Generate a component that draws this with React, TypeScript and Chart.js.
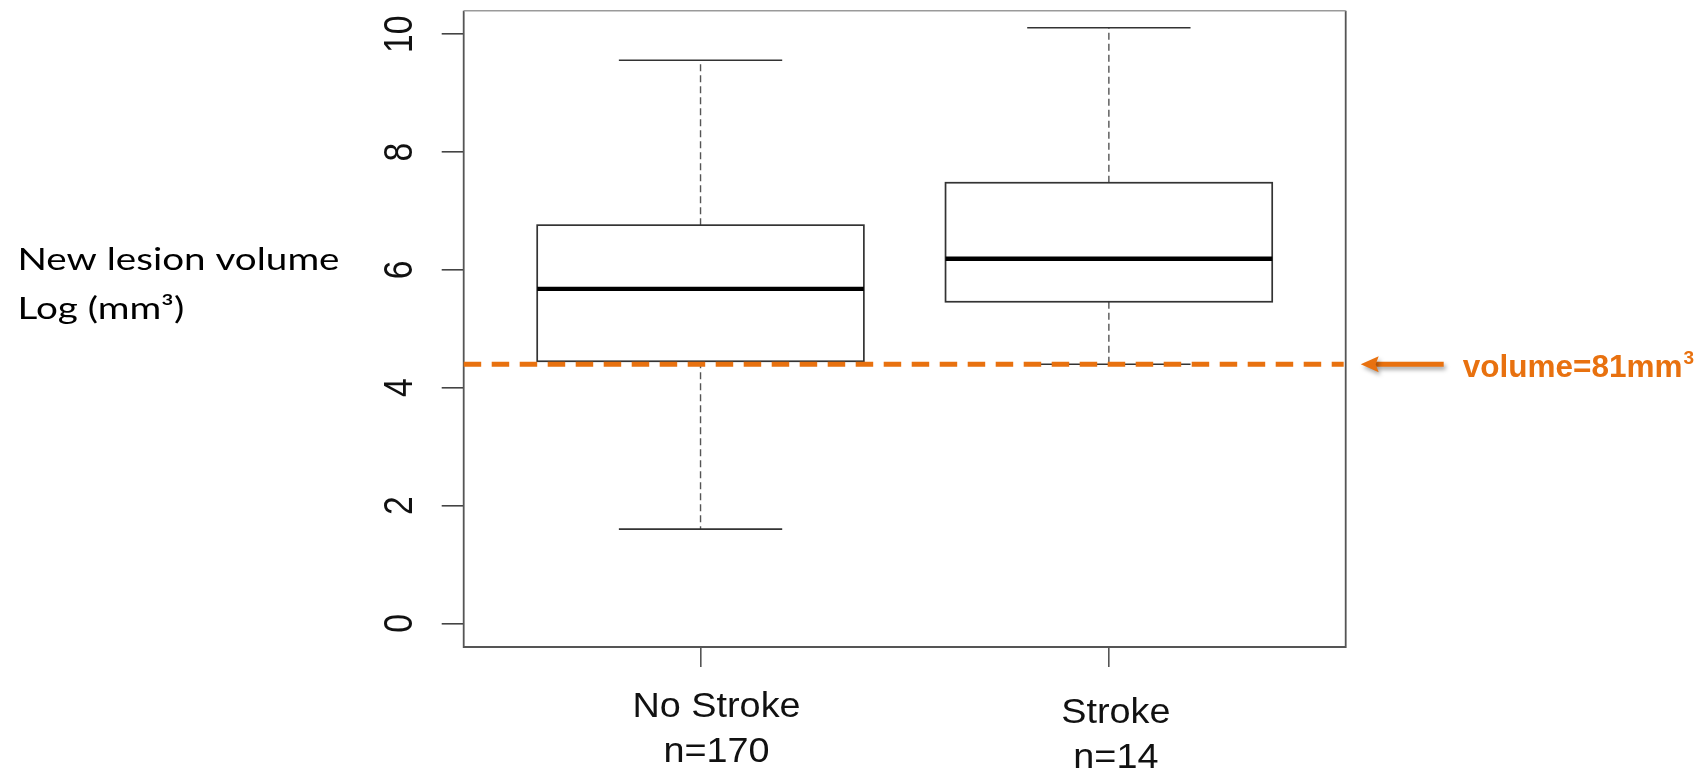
import React, { useEffect, useRef } from "react";
import { Chart, registerables } from "chart.js";

Chart.register(...registerables);

// ---- data ----
const categories = ["No Stroke", "Stroke"];
const sampleSizes = ["n=170", "n=14"];
const categoryPositions = [1, 2];
const whiskerLow = [1.6, 4.4];
const quartile1 = [4.45, 5.46];
const medians = [5.68, 6.19];
const quartile3 = [6.76, 7.48];
const whiskerHigh = [9.56, 10.11];
const yTickValues = [0, 2, 4, 6, 8, 10];
const thresholdValue = 4.4;
const thresholdLabel = "volume=81mm";
const thresholdSup = "3";
const yTitleLines = ["New lesion volume", "Log (mm³)"];

// ---- styles / layout ----
const ORANGE = "#E8710F";
const BOX_WIDTH = 0.8; // in x units (R default boxwex)
const LABEL_OFFSETS = [16, 7]; // x-label pixel offsets from tick
const LABEL_ROW1 = [70, 76]; // baseline offsets below plot bottom
const LABEL_ROW2 = [115, 121];

const boxPlugin = {
  id: "boxplotDraw",
  afterDatasetsDraw(chart: any) {
    const { ctx, chartArea, scales } = chart;
    const x = scales.x;
    const y = scales.y;
    ctx.save();
    categoryPositions.forEach((pos, i) => {
      const cx = x.getPixelForValue(pos);
      const half = x.getPixelForValue(pos + BOX_WIDTH / 2) - cx;
      const capHalf = half / 2;
      const yLo = y.getPixelForValue(whiskerLow[i]);
      const yQ1 = y.getPixelForValue(quartile1[i]);
      const yMed = y.getPixelForValue(medians[i]);
      const yQ3 = y.getPixelForValue(quartile3[i]);
      const yHi = y.getPixelForValue(whiskerHigh[i]);

      // whiskers (dashed)
      ctx.setLineDash([7, 4]);
      ctx.strokeStyle = "#555";
      ctx.lineWidth = 1.4;
      ctx.beginPath();
      ctx.moveTo(cx, yQ3);
      ctx.lineTo(cx, yHi);
      ctx.moveTo(cx, yQ1);
      ctx.lineTo(cx, yLo);
      ctx.stroke();

      // caps
      ctx.setLineDash([]);
      ctx.strokeStyle = "#333";
      ctx.lineWidth = 1.6;
      ctx.beginPath();
      ctx.moveTo(cx - capHalf, yHi);
      ctx.lineTo(cx + capHalf, yHi);
      ctx.moveTo(cx - capHalf, yLo);
      ctx.lineTo(cx + capHalf, yLo);
      ctx.stroke();

      // box
      ctx.fillStyle = "#fff";
      ctx.fillRect(cx - half, yQ3, 2 * half, yQ1 - yQ3);
      ctx.strokeStyle = "#333";
      ctx.lineWidth = 1.7;
      ctx.strokeRect(cx - half, yQ3, 2 * half, yQ1 - yQ3);

      // median
      ctx.strokeStyle = "#000";
      ctx.lineWidth = 4.3;
      ctx.beginPath();
      ctx.moveTo(cx - half, yMed);
      ctx.lineTo(cx + half, yMed);
      ctx.stroke();
    });

    // frame
    ctx.setLineDash([]);
    ctx.lineWidth = 1.8;
    ctx.strokeStyle = "#555";
    ctx.beginPath();
    ctx.moveTo(chartArea.left, chartArea.top);
    ctx.lineTo(chartArea.left, chartArea.bottom);
    ctx.lineTo(chartArea.right, chartArea.bottom);
    ctx.lineTo(chartArea.right, chartArea.top);
    ctx.stroke();
    ctx.strokeStyle = "#9a9a9a";
    ctx.lineWidth = 1.5;
    ctx.beginPath();
    ctx.moveTo(chartArea.left, chartArea.top);
    ctx.lineTo(chartArea.right, chartArea.top);
    ctx.stroke();

    // threshold dashed line
    const yT = y.getPixelForValue(thresholdValue);
    ctx.strokeStyle = ORANGE;
    ctx.lineWidth = 5;
    ctx.setLineDash([17.5, 10.5]);
    ctx.beginPath();
    ctx.moveTo(chartArea.left, yT);
    ctx.lineTo(chartArea.right - 2, yT);
    ctx.stroke();
    ctx.setLineDash([]);

    // arrow
    ctx.save();
    ctx.shadowColor = "rgba(0,0,0,0.35)";
    ctx.shadowBlur = 4;
    ctx.shadowOffsetX = 2;
    ctx.shadowOffsetY = 3;
    const ax0 = chartArea.right + 98;
    const ax1 = chartArea.right + 15;
    ctx.strokeStyle = ORANGE;
    ctx.fillStyle = ORANGE;
    ctx.lineWidth = 5;
    ctx.beginPath();
    ctx.moveTo(ax0, yT);
    ctx.lineTo(ax1 + 14, yT);
    ctx.stroke();
    ctx.beginPath();
    ctx.moveTo(ax1, yT);
    ctx.lineTo(ax1 + 18, yT - 8);
    ctx.lineTo(ax1 + 15, yT);
    ctx.lineTo(ax1 + 18, yT + 8);
    ctx.closePath();
    ctx.fill();
    ctx.restore();

    // threshold label
    ctx.fillStyle = ORANGE;
    ctx.font = "bold 31.5px 'Liberation Sans', Arial, sans-serif";
    ctx.textAlign = "left";
    ctx.textBaseline = "alphabetic";
    const tx = chartArea.right + 117;
    const ty = yT + 13;
    ctx.fillText(thresholdLabel, tx, ty);
    const w = ctx.measureText(thresholdLabel).width;
    ctx.font = "bold 19px 'Liberation Sans', Arial, sans-serif";
    ctx.fillText(thresholdSup, tx + w + 1, ty - 13);
    ctx.restore();
  },
  afterDraw(chart: any) {
    const { ctx, chartArea, scales } = chart;
    const x = scales.x;
    const y = scales.y;
    ctx.save();
    ctx.fillStyle = "#111";

    // y tick labels (rotated, R style)
    ctx.font = "41px 'Liberation Sans', Arial, sans-serif";
    ctx.textAlign = "center";
    ctx.textBaseline = "alphabetic";
    y.ticks.forEach((t: any) => {
      const py = y.getPixelForValue(t.value);
      ctx.save();
      ctx.translate(chartArea.left - 52, py);
      ctx.rotate(-Math.PI / 2);
      ctx.scale(0.82, 1);
      ctx.fillText(String(t.value), 0, 0);
      ctx.restore();
    });

    // x labels
    ctx.font = "35px 'Liberation Sans', Arial, sans-serif";
    categoryPositions.forEach((pos, i) => {
      const cx = x.getPixelForValue(pos) + LABEL_OFFSETS[i];
      const lines = [categories[i], sampleSizes[i]];
      const bases = [LABEL_ROW1[i], LABEL_ROW2[i]];
      lines.forEach((txt, j) => {
        ctx.save();
        ctx.translate(cx, chartArea.bottom + bases[j]);
        ctx.scale(1.08, 1);
        ctx.fillText(txt, 0, 0);
        ctx.restore();
      });
    });

    // y title (horizontal, left)
    ctx.fillStyle = "#000";
    ctx.textAlign = "left";
    ctx.font = "31px Lato, 'Open Sans', sans-serif";
    const targetW = 322;
    const sx = targetW / ctx.measureText(yTitleLines[0]).width;
    const titleBases = [270, 318.5];
    yTitleLines.forEach((txt, j) => {
      ctx.save();
      ctx.translate(17.5, titleBases[j]);
      ctx.scale(sx, 1);
      ctx.fillText(txt, 0, 0);
      ctx.restore();
    });
    ctx.restore();
  },
};

export default function App() {
  const canvasRef = useRef<HTMLCanvasElement | null>(null);

  useEffect(() => {
    document.body.style.margin = "0";
    const canvas = canvasRef.current;
    if (!canvas) return;
    const chart = new Chart(canvas, {
      type: "scatter",
      data: { datasets: [] },
      options: {
        animation: false,
        responsive: true,
        maintainAspectRatio: false,
        devicePixelRatio: 1,
        layout: { padding: { left: 0, top: 10.7, right: 354.3, bottom: 0 } },
        plugins: { legend: { display: false }, tooltip: { enabled: false } },
        scales: {
          x: {
            type: "linear",
            position: "bottom",
            min: 0.42,
            max: 2.58,
            afterBuildTicks: (s: any) => {
              s.ticks = categoryPositions.map((v) => ({ value: v }));
            },
            afterFit: (s: any) => {
              s.height = 122;
            },
            grid: {
              display: true,
              drawOnChartArea: false,
              drawTicks: true,
              tickLength: 20,
              color: "#555",
              lineWidth: 1.6,
            },
            border: { display: false },
            ticks: { display: false },
          },
          y: {
            type: "linear",
            min: -0.4,
            max: 10.4,
            afterBuildTicks: (s: any) => {
              s.ticks = yTickValues.map((v) => ({ value: v }));
            },
            afterFit: (s: any) => {
              s.width = 463.7;
            },
            grid: {
              display: true,
              drawOnChartArea: false,
              drawTicks: true,
              tickLength: 22,
              color: "#444",
              lineWidth: 1.6,
            },
            border: { display: false },
            ticks: { display: false },
          },
        },
      },
      plugins: [boxPlugin],
    });
    return () => chart.destroy();
  }, []);

  return (
    <div style={{ position: "absolute", left: 0, top: 0, width: 1700, height: 769, background: "#fff" }}>
      <canvas ref={canvasRef} />
    </div>
  );
}
